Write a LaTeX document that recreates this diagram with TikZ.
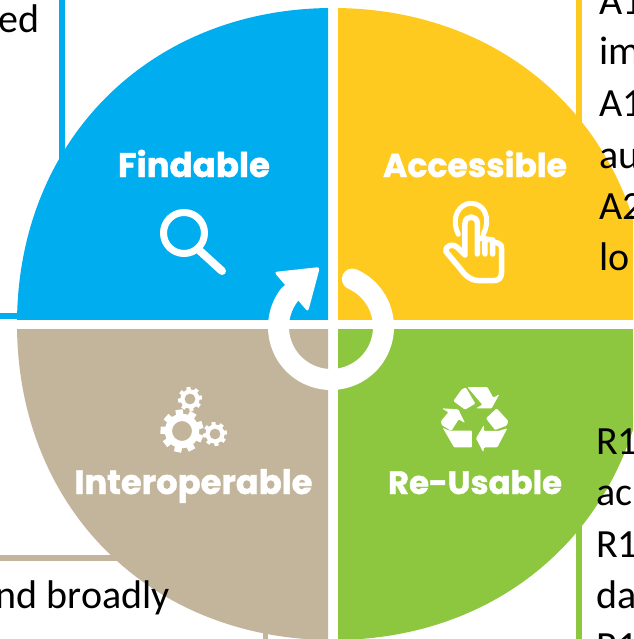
\documentclass[tikz,border=0pt]{standalone}
\usepackage{fontspec}
\setmainfont{Carlito}
\newfontfamily\lab{Poppins}[BoldFeatures={FakeBold=1.2}]
\definecolor{cblue}{HTML}{00AEEF}
\definecolor{cyel}{HTML}{FFCA20}
\definecolor{ctan}{HTML}{C2B59B}
\definecolor{cgreen}{HTML}{8DC63F}
\newcommand\blob{(17,324) .. controls (17,140.7) and (149.7,8) .. (333,8) .. controls (516.3,8) and (649,140.7) .. (649,324) .. controls (649,507.3) and (516.3,640) .. (333,640) .. controls (149.7,640) and (17,507.3) .. (17,324) -- cycle}
\newcommand\labw[2]{\resizebox{#1pt}{!}{#2}}
\newcommand\gear[5]{%
  \begin{scope}[shift={(#1,#2)}]
    \fill[white,even odd rule] (0,0) circle[radius=#3*0.8] (0,0) circle[radius=#4];
    \foreach \a in {1,...,#5}{
      \fill[white,rotate=\a*360/#5+8] (-#3*0.17,-#3*0.75) rectangle (#3*0.17,-#3);
    }
  \end{scope}}
\tikzset{x=1pt,y=-1pt,
 bodytxt/.style={font=\fontsize{40}{40}\selectfont,anchor=base west,inner sep=0,text=black},
 labtxt/.style={font=\lab\bfseries\fontsize{29}{29}\selectfont,anchor=base,inner sep=0,text=white},
 ico/.style={draw=white,line cap=round,line join=round},
 zoomA/.style={shift={(370,140)},x=0.3333pt,y=-0.3333pt},
 zoomB/.style={shift={(380,375)},x=0.3333pt,y=-0.3333pt}}
\begin{document}
\begin{tikzpicture}
\useasboundingbox (0,0) rectangle (633,639);
\fill[white] (0,0) rectangle (633,639);
\begin{scope}
\clip (0,0) rectangle (633,639);
% box edges
\fill[cblue] (59,0) rectangle (65,170);
\fill[cblue] (0,312.5) rectangle (30,319);
\fill[cyel] (576,0) rectangle (582,130);
\fill[ctan] (0,555) rectangle (120,561);
\fill[ctan] (263,625) rectangle (268,639);
\fill[cgreen] (576,510) rectangle (582,639);
% quadrants
\begin{scope}\clip (0,0) rectangle (328,319); \fill[cblue] \blob; \end{scope}
\begin{scope}\clip (338,0) rectangle (633,319); \fill[cyel] \blob; \end{scope}
\begin{scope}\clip (0,329) rectangle (328,639); \fill[ctan] \blob; \end{scope}
\begin{scope}\clip (338,329) rectangle (633,639); \fill[cgreen] \blob; \end{scope}
% central ring and arrow
\draw[white,line width=21pt,line cap=round] plot[domain=66:-218,samples=90,smooth] ({331+52.5*cos(\x)},{327-52.5*sin(\x)});
\fill[white,rounded corners=3pt] (274,272) -- (320,267) -- (308,312) -- cycle;
% magnifier
\draw[ico,line width=7pt] (184,233) circle[radius=20.5];
\draw[ico,line width=8pt] (200,251) -- (222,271);
% hand
\begin{scope}[zoomA]
\draw[ico,line width=5pt] (265,283) .. controls (240,230) and (270,190) .. (303,190) .. controls (340,190) and (365,230) .. (340,283);
\draw[ico,line width=5.5pt] (285,345) -- (285,250) .. controls (285,225) and (322,225) .. (322,250) -- (322,342)
  (322,295) -- (345,295) -- (345,342) (345,297) -- (368,300) -- (368,342) (368,305) -- (385,310) .. controls (395,315) and (395,320) .. (395,330) -- (395,395) .. controls (395,415) and (385,422) .. (370,422) -- (330,422) .. controls (300,422) and (285,405) .. (270,385) -- (228,335) .. controls (225,315) and (250,310) .. (262,322) -- (285,345);
\end{scope}
% gears
\gear{182}{431}{21.5}{10}{9}
\gear{190}{399}{12}{5.5}{8}
\gear{215}{434}{12}{5.5}{8}
% recycling
\begin{scope}[zoomB]
\fill[white,rounded corners=1pt] (220,78) -- (246,42) -- (258,38) -- (286,86) -- (255,104) -- cycle;
\fill[white,rounded corners=1pt] (262,36) -- (322,36) -- (340,68) -- (358,58) -- (335,100) -- (288,100) -- (307,89) -- cycle;
\fill[white,rounded corners=1pt] (186,100) -- (235,103) -- (255,144) -- (236,133) -- (214,168) -- (185,150) -- (183,138) -- (205,112) -- cycle;
\fill[white,rounded corners=1pt] (188,158) .. controls (200,165) and (205,167) .. (222,167) -- (276,167) -- (276,217) -- (222,217) -- cycle;
\fill[white,rounded corners=1pt] (318,130) -- (350,100) -- (385,138) -- (380,152) -- (345,165) -- cycle;
\fill[white,rounded corners=1pt] (382,160) -- (352,217) -- (312,217) -- (310,232) -- (288,190) -- (312,150) -- (312,168) -- (355,168) -- cycle;
\end{scope}
% labels
\node[labtxt] (findable) at (194,177) {\labw{152}{Findable}};
\node[labtxt] (accessible) at (475,177) {\labw{184}{Accessible}};
\node[labtxt] (interoperable) at (193.5,494) {\labw{238}{Interoperable}};
\node[labtxt] (reusable) at (475,494) {\labw{174}{Re-Usable}};
% body text fragments
\node[bodytxt,anchor=base east] (t1) at (40,33) {ed};
\node[bodytxt] (t2) at (599,15) {A1};
\node[bodytxt] (t3) at (599,65) {im};
\node[bodytxt] (t4) at (599,117) {A1};
\node[bodytxt] (t5) at (599,168) {au};
\node[bodytxt] (t6) at (599,219) {A2};
\node[bodytxt] (t7) at (599,270) {lo};
\node[bodytxt] (t8) at (596,454) {R1};
\node[bodytxt] (t9) at (596,505) {ac};
\node[bodytxt] (t10) at (596,557) {R1};
\node[bodytxt] (t11) at (596,608) {da};
\node[bodytxt] (t12) at (596,659) {R1};
\node[bodytxt,anchor=base east] (t13) at (170,608) {nd broadly};
\end{scope}
\end{tikzpicture}
\end{document}
